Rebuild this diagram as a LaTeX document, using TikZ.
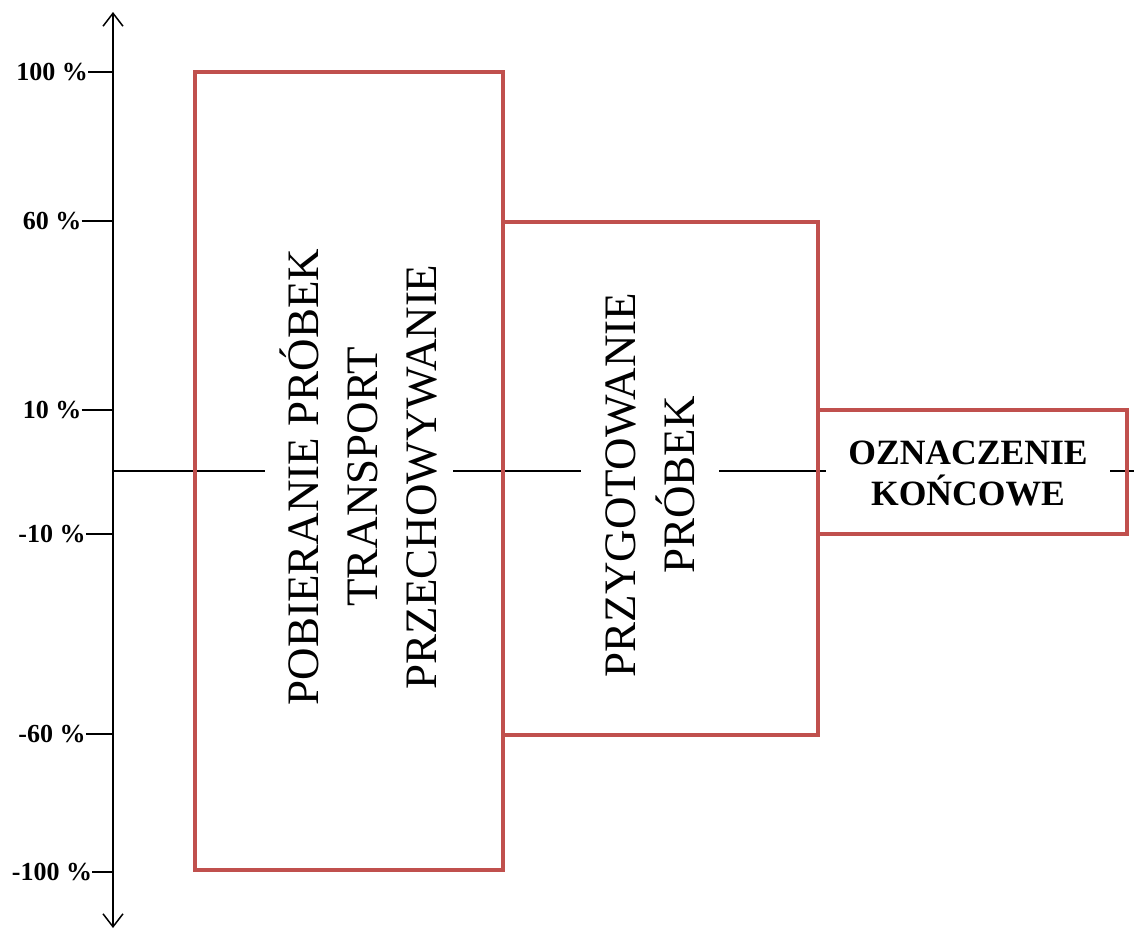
\documentclass[tikz,border=0pt]{standalone}
\usepackage{fontspec}
\setmainfont{Liberation Serif}
\usetikzlibrary{arrows.meta}
\definecolor{boxred}{RGB}{192,80,77}
\begin{document}
\begin{tikzpicture}[x=0.5pt,y=-0.5pt,
  axisline/.style={line width=0.75pt, black, {Straight Barb[length=6.5pt,width=10pt]}-{Straight Barb[length=6.5pt,width=10pt]}},
  tickline/.style={line width=0.6pt, black},
  baseline0/.style={line width=0.6pt, black},
  ticklabel/.style={anchor=center, inner sep=0pt, font=\fontsize{13}{15}\selectfont\bfseries},
  phasebox/.style={draw=boxred, line width=2pt, inner sep=0pt, outer sep=0pt},
  phasetext/.style={fill=white, align=center, rotate=90, inner xsep=2pt,
    font=\fontsize{22.5}{29.5}\selectfont},
  finaltext/.style={fill=white, align=center, inner xsep=11pt, inner ysep=4pt,
    font=\fontsize{17.8}{20.5}\selectfont\bfseries}]
\useasboundingbox (0,0) rectangle (1134,937);

% vertical percentage axis
\coordinate (axtop) at (113,12);
\coordinate (axbot) at (113,928);
\draw[axisline] (axbot) -- (axtop);

% zero line across the whole chart
\coordinate (zeroL) at (113,471);
\coordinate (zeroR) at (1134,471);
\draw[baseline0] (zeroL) -- (zeroR);

% tick labels and ticks
\foreach \name/\yy/\txt in {p100/72/100 \%, p60/221/60 \%, p10/410/10 \%,
    m10/534/-10 \%, m60/734/-60 \%, m100/872/-100 \%}{
  \node[ticklabel] (\name) at (52,\yy) {\txt};
  \draw[tickline] (\name.east) -- (\name.east -| axtop);
}

% phase boxes
\node[phasebox, minimum width=154pt, minimum height=399pt] (box1) at (349,471) {};
\node[phasebox, minimum width=157.5pt, minimum height=256.5pt] (box2) at (660.5,478.5) {};
\node[phasebox, minimum width=154.5pt, minimum height=62pt] (box3) at (972.5,472) {};

% phase labels
\node[phasetext, inner ysep=7.5pt] (t1) at (359,477)
  {POBIERANIE PRÓBEK\\TRANSPORT\\PRZECHOWYWANIE};
\node[phasetext, inner ysep=12pt] (t2) at (650,485)
  {PRZYGOTOWANIE\\PRÓBEK};
\node[finaltext] (t3) at (968,473) {OZNACZENIE\\KOŃCOWE};
\end{tikzpicture}
\end{document}
